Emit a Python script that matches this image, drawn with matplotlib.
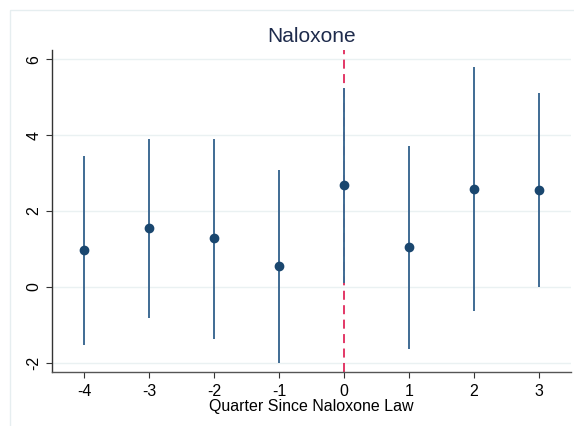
import matplotlib
matplotlib.use("Agg")
import matplotlib.pyplot as plt
from matplotlib.patches import Rectangle

plt.rcParams['font.family'] = ['Liberation Sans', 'DejaVu Sans']

quarters = [-4, -3, -2, -1, 0, 1, 2, 3]
coef = [0.97, 1.55, 1.29, 0.55, 2.68, 1.05, 2.58, 2.55]
ci_low = [-1.53, -0.82, -1.37, -2.0, 0.10, -1.63, -0.63, 0.0]
ci_high = [3.45, 3.89, 3.89, 3.08, 5.24, 3.71, 5.79, 5.10]
yticks = [-2, 0, 2, 4, 6]

W, H = 574, 426
fig = plt.figure(figsize=(W / 100, H / 100), dpi=100)
fig.patch.set_facecolor("white")
fig.patches.append(Rectangle((10 / W, -0.1), 1.2, (H - 10) / H + 0.1, transform=fig.transFigure,
                             fill=False, edgecolor="#e6eef0", linewidth=1.0))

ax = fig.add_axes([52 / W, 1 - 372 / H, (571 - 52) / W, (372 - 50) / H])
ax.set_xlim(-4.5, 3.5)
ax.set_ylim(-2.24, 6.24)

for y in yticks:
    ax.axhline(y, color="#eaf1f2", linewidth=1.0, zorder=0)

ax.axvline(0, color="#e0285a", linestyle=(0, (5, 3)), linewidth=1.3, zorder=1)
ax.vlines(quarters, ci_low, ci_high, color="#3f6b94", linewidth=1.4, zorder=2)
ax.plot(quarters, coef, "o", color="#1a476f", markersize=6, zorder=3)

for s in ["top", "right"]:
    ax.spines[s].set_visible(False)
ax.spines["left"].set_color("#333333")
ax.spines["bottom"].set_color("#555555")
ax.spines["left"].set_linewidth(1.0)
ax.spines["bottom"].set_linewidth(1.0)

ax.set_xticks(quarters)
ax.set_xticklabels([str(q) for q in quarters])
ax.set_yticks(yticks)
ax.set_yticklabels([str(y) for y in yticks], rotation=90, va="center")
ax.tick_params(axis="both", labelsize=11.5, length=4, color="#333333", labelcolor="black")
ax.tick_params(axis="x", pad=5)
ax.set_xlabel("Quarter Since Naloxone Law", fontsize=11.5, labelpad=0)
fig.text(312 / W, 1 - 37 / H, "Naloxone", ha="center", va="center", fontsize=15, color="#1e2b4c")

fig.savefig("out.png", dpi=100)
